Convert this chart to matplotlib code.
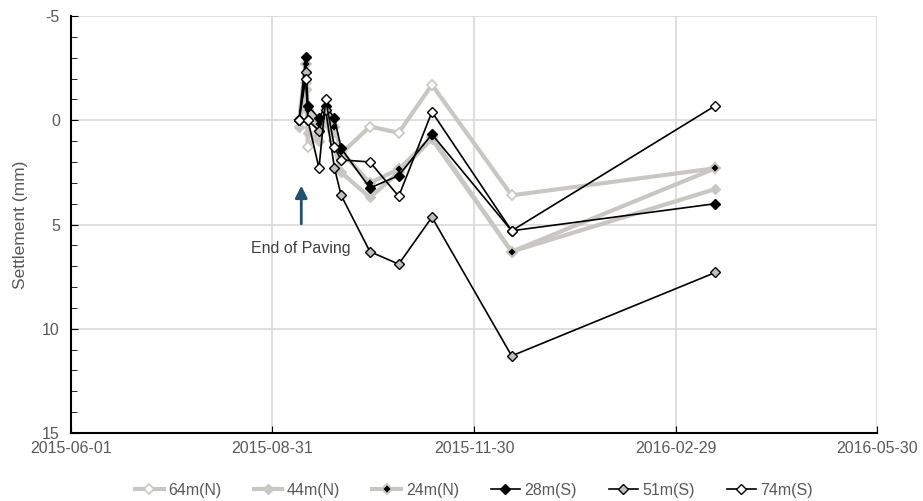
import numpy as np
import pandas as pd
import matplotlib
matplotlib.use("Agg")
from matplotlib import pyplot as plt
import matplotlib.dates as mdates

plt.rcParams['font.family'] = ['Liberation Sans', 'DejaVu Sans']
plt.rcParams['axes.unicode_minus'] = False

# survey dates and settlement readings (mm)
dates = pd.to_datetime(['2015-09-12', '2015-09-15', '2015-09-16', '2015-09-21',
                        '2015-09-24', '2015-09-28', '2015-10-01', '2015-10-14',
                        '2015-10-27', '2015-11-11', '2015-12-17', '2016-03-18'])

s64N = [0.0, -1.8, 1.3, 0.5, -0.3, 1.0, 1.6, 0.3, 0.6, -1.7, 3.6, 2.3]
s44N = [0.3, -1.5, 0.6, 1.0, 0.0, 1.3, 2.5, 3.7, 2.5, 0.9, 6.3, 3.3]
s24N = [0.0, -2.7, -0.5, 0.2, -0.5, 0.3, 1.5, 3.0, 2.35, 0.8, 6.3, 2.3]
s28S = [0.0, -3.05, -0.7, -0.1, -0.7, -0.1, 1.35, 3.25, 2.65, 0.67, 5.3, 4.0]
s51S = [0.0, -2.3, 0.0, 0.5, -0.5, 2.3, 3.6, 6.3, 6.9, 4.65, 11.3, 7.3]
s74S = [0.0, -2.0, 0.0, 2.3, -1.0, 1.3, 1.9, 2.0, 3.65, -0.4, 5.3, -0.7]

tick_dates = pd.to_datetime(['2015-06-01', '2015-08-31', '2015-11-30',
                             '2016-02-29', '2016-05-30'])

gray = '#C9C7C3'
txt = '#595959'

fig = plt.figure(figsize=(9.23, 5.01), dpi=100)
ax = fig.add_axes([0.0769, 0.1357, 0.8733, 0.8323])

ax.plot(dates, s64N, color=gray, lw=3, marker='D', ms=5.5, mfc='white', mec=gray, mew=1.2, label='64m(N)')
ax.plot(dates, s44N, color=gray, lw=3, marker='D', ms=5.5, mfc=gray, mec=gray, label='44m(N)')
ax.plot(dates, s24N, color=gray, lw=3, marker='D', ms=5, mfc='black', mec=gray, mew=1.5, label='24m(N)')
ax.plot(dates, s28S, color='black', lw=1.2, marker='D', ms=5.5, mfc='black', mec='black', label='28m(S)')
ax.plot(dates, s51S, color='black', lw=1.2, marker='D', ms=5.5, mfc='#BFBFBF', mec='black', mew=1, label='51m(S)')
ax.plot(dates, s74S, color='black', lw=1.2, marker='D', ms=5.5, mfc='white', mec='black', mew=1, label='74m(S)')

ax.set_xlim(tick_dates[0], tick_dates[-1])
ax.set_ylim(15, -5)
ax.set_yticks([-5, 0, 5, 10, 15])
ax.set_yticks(np.arange(-5, 16, 1), minor=True)
ax.set_xticks(tick_dates)
ax.xaxis.set_major_formatter(mdates.DateFormatter('%Y-%m-%d'))

ax.grid(True, which='major', color='#D9D9D9', lw=1.2)
ax.set_axisbelow(True)
for s in ['top', 'right']:
    ax.spines[s].set_visible(False)
for s in ['left', 'bottom']:
    ax.spines[s].set_linewidth(1.5)
ax.tick_params(axis='both', which='both', direction='in', colors='black',
               labelcolor=txt, labelsize=11.5)
ax.tick_params(axis='y', which='major', length=5, pad=8)
ax.tick_params(axis='y', which='minor', length=4)
ax.tick_params(axis='x', length=5, pad=6)
ax.set_ylabel('Settlement (mm)', color=txt, fontsize=12.5, labelpad=10)

ax.annotate('', xy=(pd.Timestamp('2015-09-13'), 3.0), xytext=(pd.Timestamp('2015-09-13'), 5.1),
            arrowprops=dict(arrowstyle='-|>', color='#24506E', lw=2, mutation_scale=18))
ax.text(pd.Timestamp('2015-09-13'), 6.15, 'End of Paving', ha='center', va='center',
        color='#404040', fontsize=11.5)

ax.legend(loc='upper center', bbox_to_anchor=(0.5, -0.085), ncol=6, frameon=False,
          fontsize=11.5, labelcolor=txt, handlelength=1.8, columnspacing=2.0, handletextpad=0.3)

fig.savefig('out.png', dpi=100)
